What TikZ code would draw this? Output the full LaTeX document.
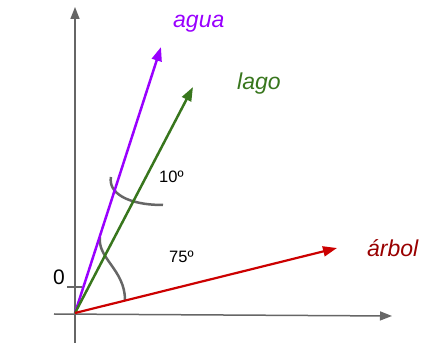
\documentclass[tikz,border=0pt]{standalone}
\usepackage{fontspec}
\setmainfont{Liberation Sans}
\usetikzlibrary{arrows.meta}
\definecolor{vpurple}{HTML}{9900FF}
\definecolor{vgreen}{HTML}{38761D}
\definecolor{vred}{HTML}{CC0000}
\definecolor{lred}{HTML}{990000}
\definecolor{axgray}{HTML}{666666}
\begin{document}
\begin{tikzpicture}[x=1pt,y=-1pt,
 axis/.style={draw=axgray,line width=1.5pt},
 axisarrow/.style={axis,-{Triangle[length=12pt,width=9pt]}},
 vec/.style={line width=2.5pt,-{Triangle[length=14pt,width=10pt]}},
 lbl/.style={font=\fontsize{23}{27}\selectfont\itshape,inner sep=0pt,anchor=base west},
 ang/.style={font=\fontsize{16.5}{20}\selectfont,inner sep=0pt,anchor=base west},
 arcline/.style={draw=axgray,line width=2.5pt}]
\useasboundingbox (0,0) rectangle (429,355);
% coordinates
\coordinate (O) at (75,313);
\coordinate (xl) at (54,314);
\coordinate (xr) at (392,316);
\coordinate (yb) at (75,343);
\coordinate (yt) at (75,7);
\coordinate (t0a) at (67,287);
\coordinate (t0b) at (82,287);
\coordinate (pa) at (161,47);
\coordinate (pl) at (193,87);
\coordinate (pr) at (337,248);
% axes
\draw[axisarrow] (xl) -- (xr);
\draw[axisarrow] (yb) -- (yt);
\draw[axis] (t0a) -- (t0b);
% angle marks
\draw[arcline] (111,177) .. controls (108,192) and (126,205) .. (163,205);
\draw[arcline] (100,237) .. controls (97,258) and (125,270) .. (125,300);
% vectors
\draw[vec,vpurple] (O) -- (pa);
\draw[vec,vgreen] (O) -- (pl);
\draw[vec,vred,line width=2.2pt] (O) -- (pr);
% labels
\node[lbl,text=vpurple] (la) at (173,28) {agua};
\node[lbl,text=vgreen] (ll) at (237,90) {lago};
\node[lbl,text=lred] (lr) at (367,257) {árbol};
\node[ang] (a10) at (159,183) {10º};
\node[ang] (a75) at (169,263) {75º};
\node[font=\fontsize{21}{25}\selectfont,inner sep=0pt,anchor=base west] (zero) at (53,285) {0};
\end{tikzpicture}
\end{document}
